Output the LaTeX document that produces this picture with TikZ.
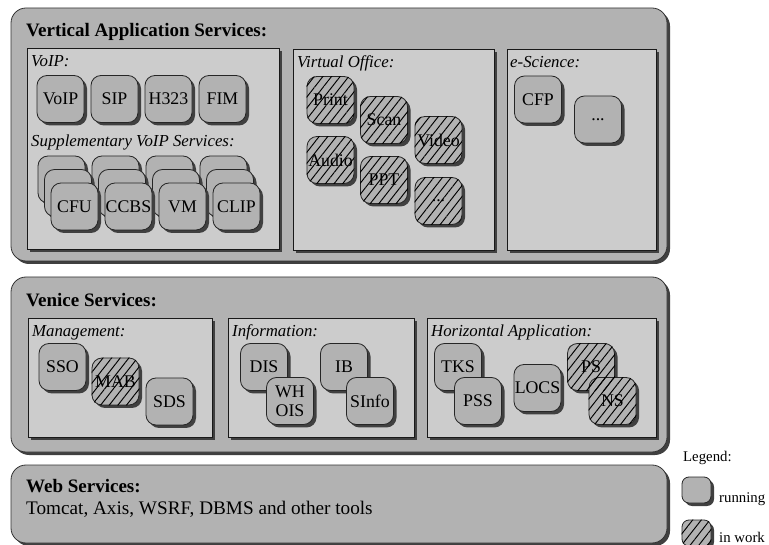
\documentclass[tikz,border=0pt]{standalone}
\usepackage{fontspec}
\setmainfont{Liberation Serif}
\usetikzlibrary{shadows,patterns.meta}

\newcommand\titlefont{\fontsize{19}{22}\selectfont\bfseries}
\newcommand\plainfont{\fontsize{19.2}{22}\selectfont}
\newcommand\labfont{\fontsize{16.8}{20}\selectfont\itshape}
\newcommand\svcfont{\fontsize{17.8}{20}\selectfont}
\newcommand\legfont{\fontsize{14.8}{18}\selectfont}

\tikzset{
  shade3/.style={drop shadow={shadow xshift=3pt, shadow yshift=-3pt, fill=black!75, opacity=1}},
  layer/.style={draw=black!80, line width=0.8pt, fill=gray!60, rounded corners=15pt, shade3},
  group/.style={draw=black!90, line width=0.8pt, fill=gray!40, shade3},
  svc/.style={draw=black!85, line width=0.8pt, fill=gray!60, rounded corners=10pt,
    minimum width=47pt, minimum height=47pt, inner sep=0pt, align=center,
    font=\svcfont, shade3},
  hatch/.style={pattern={Lines[angle=52,distance=6.8pt,line width=0.95pt]}, pattern color=black},
  title/.style={anchor=base west, inner sep=0pt, font=\titlefont},
  lab/.style={anchor=base west, inner sep=0pt, font=\labfont},
  legtext/.style={anchor=base west, inner sep=0pt, font=\legfont},
}

\begin{document}
\begin{tikzpicture}[x=1pt, y=-1pt]
\useasboundingbox (0,0) rectangle (769,545);

% ---------- layers ----------
\draw[layer] (11,8) rectangle (667,261);
\draw[layer] (11,277) rectangle (667,452);
\draw[layer] (11,465) rectangle (667,543);

\node[title] (vas) at (26,37) {Vertical Application Services:};
\node[title] (ven) at (26,307) {Venice Services:};
\node[title] (web) at (26,493) {Web Services:};
\node[anchor=base west, inner sep=0pt, font=\plainfont] (webtools) at (26,514) {Tomcat, Axis, WSRF, DBMS and other tools};

% ---------- groups ----------
\draw[group] (27,48) rectangle (279,249);
\draw[group] (293,49) rectangle (494,250);
\draw[group] (507,49) rectangle (656,250);
\draw[group] (28,318) rectangle (212,437);
\draw[group] (228,318) rectangle (414,437);
\draw[group] (427,318) rectangle (656,437);

\node[lab] (voiplab) at (31,67) {VoIP:};
\node[lab] (supplab) at (31,147) {Supplementary VoIP Services:};
\node[lab] (volab) at (297,68) {Virtual Office:};
\node[lab] (eslab) at (510,68) {e-Science:};
\node[lab] (mglab) at (32,337) {Management:};
\node[lab] (inlab) at (232,337) {Information:};
\node[lab] (hzlab) at (431,337) {Horizontal Application:};

% ---------- VoIP ----------
\node[svc] (voip) at (60.5,99) {VoIP};
\node[svc] (sip) at (114.5,99) {SIP};
\node[svc] (h323) at (168.5,99) {H323};
\node[svc] (fim) at (222.5,99) {FIM};

% supplementary services, stacked three deep
\foreach \nm [count=\i from 0] in {cfu,ccbs,vm,clip}
  \node[svc] (\nm-c) at (61.5+54*\i,179.5) {};
\foreach \nm [count=\i from 0] in {cfu,ccbs,vm,clip}
  \node[svc] (\nm-b) at (68+54*\i,193) {};
\foreach \nm/\txt [count=\i from 0] in {cfu/CFU,ccbs/CCBS,vm/VM,clip/CLIP}
  \node[svc] (\nm) at (74.5+54*\i,206.5) {\txt};

% ---------- Virtual Office ----------
\node[svc] (print) at (330.5,100) {Print};
\node[svc] (scan) at (384,120) {Scan};
\node[svc] (video) at (438.5,140) {Video};
\node[svc] (audio) at (330.5,160) {Audio};
\node[svc] (ppt) at (384,180) {PPT};
\node[svc] (vodots) at (438.5,201) {...};

% ---------- e-Science ----------
\node[svc] (cfp) at (538,99.5) {CFP};
\node[svc] (esdots) at (598,119.5) {...};

% ---------- Management ----------
\node[svc] (sso) at (62.5,367) {SSO};
\node[svc] (mab) at (115.5,381.5) {MAB};
\node[svc] (sds) at (169.5,401.5) {SDS};

% ---------- Information ----------
\node[svc] (dis) at (264,367) {DIS};
\node[svc] (whois) at (290,401) {WH\\[-1pt]OIS};
\node[svc] (ib) at (344,367) {IB};
\node[svc] (sinfo) at (370,401) {SInfo};

% ---------- Horizontal Application ----------
\node[svc] (tks) at (458,367) {TKS};
\node[svc] (pss) at (478,401) {PSS};
\node[svc] (locs) at (537.5,388) {LOCS};
\node[svc] (ps) at (591,367) {PS};
\node[svc] (ns) at (612.5,401) {NS};

% ---------- legend ----------
\node[legtext] (legtitle) at (683,461) {Legend:};
\node[svc, minimum width=29pt, minimum height=26pt, rounded corners=7pt] (legrun) at (696.5,490) {};
\node[legtext] (legruntxt) at (719,502) {running};
\node[svc, minimum width=29pt, minimum height=26pt, rounded corners=7pt] (legwork) at (696.5,533) {};
\node[legtext] (legworktxt) at (719,542) {in work};

% hatching over the services still in work
\foreach \n/\r in {print/10pt,scan/10pt,video/10pt,audio/10pt,ppt/10pt,vodots/10pt,mab/10pt,ps/10pt,ns/10pt,legwork/7pt}
  \path[hatch] (\n.south west) [rounded corners=\r] rectangle (\n.north east);
\end{tikzpicture}
\end{document}
